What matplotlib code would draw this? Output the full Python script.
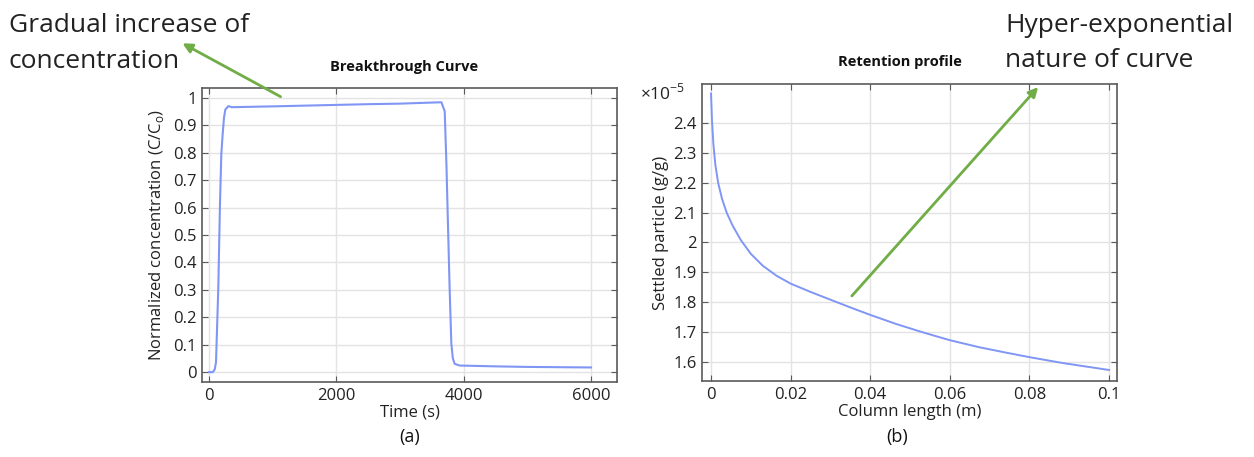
import matplotlib
matplotlib.use("Agg")
import matplotlib.pyplot as plt
from matplotlib.patches import FancyArrowPatch
from matplotlib.ticker import FuncFormatter, MultipleLocator

plt.rcParams['font.family'] = ['Open Sans', 'DejaVu Sans']

# ---- data (a) Breakthrough curve ----
time_s = [0, 60, 90, 110, 146, 172, 193, 214, 235, 256, 303, 356, 1000, 1743, 2500, 3000,
          3650, 3702, 3730, 3754, 3780, 3806, 3830, 3859, 3937, 4500, 5000, 6000]
conc = [0.0, 0.0, 0.01, 0.036, 0.307, 0.61, 0.793, 0.866, 0.927, 0.957, 0.970, 0.966, 0.969,
        0.973, 0.977, 0.979, 0.984, 0.951, 0.75, 0.53, 0.30, 0.104, 0.05, 0.03, 0.024, 0.021,
        0.019, 0.017]

# ---- data (b) Retention profile (units of 1e-5 g/g) ----
col_len = [0.0, 0.00025, 0.0006, 0.0011, 0.0018, 0.0028, 0.004, 0.0055, 0.0075, 0.010,
           0.013, 0.0165, 0.02, 0.025, 0.03, 0.035, 0.04, 0.0466, 0.0533, 0.06, 0.0675,
           0.0742, 0.08, 0.0885, 0.1]
settled_e5 = [2.50, 2.41, 2.33, 2.26, 2.20, 2.145, 2.098, 2.055, 2.008, 1.962,
              1.922, 1.888, 1.862, 1.834, 1.808, 1.782, 1.757, 1.726, 1.698, 1.672, 1.648,
              1.630, 1.615, 1.595, 1.572]

W, H = 1254, 457
fig = plt.figure(figsize=(W / 100, H / 100), dpi=100)

line_color = '#8096f4'
frame_color = '#5a5a5a'
grid_color = '#e3e3e3'
text_color = '#222222'

def fmt(v, pos):
    s = ('%.2f' % v).rstrip('0').rstrip('.')
    if s == '-0':
        s = '0'
    return s

def style(ax):
    for sp in ax.spines.values():
        sp.set_color(frame_color)
        sp.set_linewidth(1.2)
    ax.tick_params(direction='in', top=True, right=True, length=4, width=0.8,
                   color=frame_color, labelsize=12, labelcolor=text_color, pad=4)
    ax.grid(True, color=grid_color, linewidth=1.0)
    ax.set_axisbelow(True)
    ax.xaxis.set_major_formatter(FuncFormatter(fmt))
    ax.yaxis.set_major_formatter(FuncFormatter(fmt))

# panel (a)
ax1 = fig.add_axes([202 / W, 1 - 382 / H, 415 / W, 294 / H])
ax1.plot(time_s, conc, color=line_color, linewidth=1.5)
ax1.set_xlim(-110, 6408)
ax1.set_ylim(-0.036, 1.036)
ax1.xaxis.set_major_locator(MultipleLocator(2000))
ax1.yaxis.set_major_locator(MultipleLocator(0.1))
style(ax1)
ax1.set_xlabel('Time (s)', fontsize=12, labelpad=1, color=text_color)
ax1.set_ylabel('Normalized concentration (C/C$_{\\mathregular{o}}$)', fontsize=12, labelpad=5,
               color=text_color)

# panel (b)
ax2 = fig.add_axes([702 / W, 1 - 381 / H, 415 / W, 297 / H])
ax2.plot(col_len, settled_e5, color=line_color, linewidth=1.4)
ax2.set_xlim(-0.00226, 0.102)
ax2.set_ylim(1.535, 2.532)
ax2.xaxis.set_major_locator(MultipleLocator(0.02))
style(ax2)
ax2.set_yticks([1.6, 1.7, 1.8, 1.9, 2.0, 2.1, 2.2, 2.3, 2.4])
ax2.set_xlabel('Column length (m)', fontsize=12, labelpad=1, color=text_color)
ax2.set_ylabel('Settled particle (g/g)', fontsize=12, labelpad=3, color=text_color)
fig.text(640 / W, 1 - 93 / H, '×10$^{\\mathregular{-5}}$', fontsize=12.5, ha='left', va='center',
         color=text_color)

# titles
fig.text(404 / W, 1 - 67 / H, 'Breakthrough Curve', fontsize=10.5, fontweight='bold',
         ha='center', va='center', color='#111111')
fig.text(900 / W, 1 - 62 / H, 'Retention profile', fontsize=10.5, fontweight='bold',
         ha='center', va='center', color='#111111')

# panel labels
fig.text(410 / W, 1 - 437 / H, '(a)', fontsize=13, ha='center', va='center', color='#111111')
fig.text(897 / W, 1 - 437 / H, '(b)', fontsize=13, ha='center', va='center', color='#111111')

# annotations (one text per line, baseline positioned)
fig.text(9 / W, 1 - 32 / H, 'Gradual increase of', fontsize=19, ha='left',
         va='baseline', color=text_color)
fig.text(9 / W, 1 - 68 / H, 'concentration', fontsize=19, ha='left',
         va='baseline', color=text_color)
fig.text(1005 / W, 1 - 32 / H, 'Hyper-exponential', fontsize=19, ha='left',
         va='baseline', color=text_color)
fig.text(1005 / W, 1 - 67 / H, 'nature of curve', fontsize=19, ha='left',
         va='baseline', color=text_color)

green = '#70ad47'
a1 = FancyArrowPatch((283 / W, 1 - 98 / H), (180 / W, 1 - 42 / H), transform=fig.transFigure,
                     arrowstyle='-|>', mutation_scale=14, color=green, linewidth=2, zorder=10)
a2 = FancyArrowPatch((850 / W, 1 - 298 / H), (1040 / W, 1 - 85 / H), transform=fig.transFigure,
                     arrowstyle='-|>', mutation_scale=14, color=green, linewidth=2, zorder=10)
fig.add_artist(a1)
fig.add_artist(a2)

fig.savefig('out.png', dpi=100)
